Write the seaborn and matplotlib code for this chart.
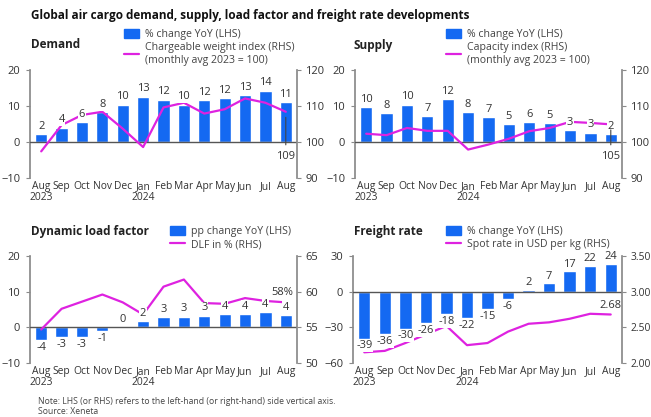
import numpy as np
import pandas as pd
import matplotlib
matplotlib.use("Agg")
import matplotlib.pyplot as plt
import seaborn as sns
from matplotlib.patches import Patch
from matplotlib.lines import Line2D

# ---------------- data ----------------
months = ["Aug\n2023", "Sep", "Oct", "Nov", "Dec", "Jan\n2024", "Feb", "Mar",
          "Apr", "May", "Jun", "Jul", "Aug"]

demand_yoy = [2.3, 4.0, 5.6, 8.2, 10.4, 12.6, 11.8, 10.4, 11.6, 12.3, 13.1, 14.3, 11.2]
demand_lbl = ["2", "4", "6", "8", "10", "13", "12", "10", "12", "12", "13", "14", "11"]
demand_idx = [97.4, 104.7, 107.5, 108.4, 103.7, 98.6, 109.6, 110.9, 107.9, 109.1, 112.1, 110.9, 108.4]

supply_yoy = [9.8, 8.0, 10.4, 7.3, 12.0, 8.4, 6.9, 5.0, 5.6, 5.2, 3.2, 2.6, 2.3]
supply_lbl = ["10", "8", "10", "7", "12", "8", "7", "5", "6", "5", "3", "3", "2"]
supply_idx = [102.3, 101.9, 103.9, 103.1, 103.1, 97.9, 99.3, 100.9, 103.0, 103.9, 105.6, 105.3, 104.9]

dlf_pp = [-3.6, -2.8, -2.8, -0.9, 0.0, 1.7, 2.8, 3.0, 3.3, 3.6, 3.8, 4.2, 3.5]
dlf_lbl = ["-4", "-3", "-3", "-1", "0", "2", "3", "3", "3", "4", "4", "4", "4"]
dlf_pct = [54.7, 57.6, 58.6, 59.6, 58.5, 56.8, 60.7, 61.7, 58.4, 58.3, 59.1, 58.7, 58.5]

rate_yoy = [-39.5, -36, -31, -26.5, -19, -22, -15, -6, 1.8, 7, 17, 22, 23.5]
rate_lbl = ["-39", "-36", "-30", "-26", "-18", "-22", "-15", "-6", "2", "7", "17", "22", "24"]
rate_spot = [2.15, 2.17, 2.28, 2.40, 2.52, 2.25, 2.28, 2.44, 2.55, 2.57, 2.62, 2.69, 2.68]

BLUE = "#1469f2"
MAGENTA = "#de22e0"
TXT = "#333333"
GREY = "#8a8a8a"

sns.set_theme(style="white")
plt.rcParams["font.family"] = ["Open Sans", "DejaVu Sans"]

W, H = 651, 417
fig = plt.figure(figsize=(W / 100, H / 100), dpi=100)


def px_axes(x0, x1, ytop, ybot):
    return fig.add_axes([x0 / W, 1 - ybot / H, (x1 - x0) / W, (ybot - ytop) / H])


def panel(ax, bars, labels, line, lylim, rylim, lticks, rticks, rfmt, lab_off,
          rsize=8):
    df = pd.DataFrame({"pos": range(len(bars)), "val": bars})
    sns.barplot(data=df, x="pos", y="val", color=BLUE, width=0.6, ax=ax,
                saturation=1, zorder=2)
    ax.set_xlim(-0.55, 12.55)
    ax.set_ylim(*lylim)
    ax.set_yticks(lticks)
    ax.set_xticks(range(len(months)))
    ax.set_xticklabels(months, fontsize=7.4, color=TXT, linespacing=1.05)
    ax.set_xlabel("")
    ax.set_ylabel("")
    ax.axhline(0, color="#555555", lw=1.0, zorder=3)
    ax.tick_params(axis="y", labelsize=8, colors=TXT, length=3, width=0.8,
                   color=GREY, direction="out", pad=4)
    ax.tick_params(axis="x", length=0, pad=2)
    for s in ["top", "right", "bottom"]:
        ax.spines[s].set_visible(False)
    ax.spines["left"].set_color(GREY)

    ax2 = ax.twinx()
    ldf = pd.DataFrame({"pos": range(len(line)), "val": line})
    sns.lineplot(data=ldf, x="pos", y="val", color=MAGENTA, lw=1.6, ax=ax2, zorder=4)
    ax2.set_ylim(*rylim)
    ax2.set_yticks(rticks)
    ax2.set_yticklabels([rfmt.format(t) for t in rticks])
    ax2.set_ylabel("")
    ax2.set_xlabel("")
    ax2.tick_params(axis="y", labelsize=rsize, colors=TXT, length=3, width=0.8,
                    color=GREY, direction="out", pad=3)
    for s in ["top", "left", "bottom"]:
        ax2.spines[s].set_visible(False)
    ax2.spines["right"].set_color(GREY)
    ax2.set_xlim(-0.55, 12.55)

    # bar value labels, drawn above the line with white boxes
    for i, (v, t) in enumerate(zip(bars, labels)):
        if v >= 0:
            y, va = v + lab_off, "bottom"
        else:
            y, va = v - lab_off, "top"
        ax2.text(i, y, t, transform=ax.transData, ha="center", va=va, fontsize=8,
                 color=TXT, zorder=6,
                 bbox=dict(boxstyle="square,pad=0.05", fc="white", ec="none"))
    return ax2


def legend(x, y, bar_lbl, line_lbl):
    h = [Patch(color=BLUE), Line2D([], [], color=MAGENTA, lw=1.6)]
    fig.legend(h, [bar_lbl, line_lbl], loc="upper left",
               bbox_to_anchor=(x / W, 1 - y / H), frameon=False, fontsize=7.6,
               labelcolor="#444444", handlelength=1.4, handleheight=0.9,
               handletextpad=0.6, labelspacing=0.2, borderaxespad=0,
               borderpad=0)


# ---------- Demand ----------
ax = px_axes(30, 297, 70, 178)
a2 = panel(ax, demand_yoy, demand_lbl, demand_idx, (-10, 20), (90, 120),
           [-10, 0, 10, 20], [90, 100, 110, 120], "{:d}", 0.6)
a2.annotate("109", xy=(12, demand_idx[-1]), xytext=(12, 96.0), ha="center",
            va="center", fontsize=8, color=TXT, zorder=6,
            arrowprops=dict(arrowstyle="-", color="#444444", lw=0.8, shrinkB=4))
fig.text(31 / W, 1 - 45 / H, "Demand", fontsize=8.5, fontweight="bold",
         color="#222222", va="center")
legend(124, 29, "% change YoY (LHS)",
       "Chargeable weight index (RHS)\n(monthly avg 2023 = 100)")

# ---------- Supply ----------
ax = px_axes(355, 622, 70, 178)
a2 = panel(ax, supply_yoy, supply_lbl, supply_idx, (-10, 20), (90, 120),
           [-10, 0, 10, 20], [90, 100, 110, 120], "{:d}", 0.6)
a2.annotate("105", xy=(12, supply_idx[-1]), xytext=(12, 96.0), ha="center",
            va="center", fontsize=8, color=TXT, zorder=6,
            arrowprops=dict(arrowstyle="-", color="#444444", lw=0.8, shrinkB=4))
fig.text(354 / W, 1 - 45 / H, "Supply", fontsize=8.5, fontweight="bold",
         color="#222222", va="center")
legend(446, 29, "% change YoY (LHS)",
       "Capacity index (RHS)\n(monthly avg 2023 = 100)")

# ---------- Dynamic load factor ----------
ax = px_axes(30, 297, 256, 363)
a2 = panel(ax, dlf_pp, dlf_lbl, dlf_pct, (-10, 20), (50, 65),
           [-10, 0, 10, 20], [50, 55, 60, 65], "{:d}", 0.6)
a2.text(11.85, dlf_pct[-1] + 0.6, "58%", ha="center", va="bottom", fontsize=8,
        color=TXT, zorder=6)
fig.text(31 / W, 1 - 231 / H, "Dynamic load factor", fontsize=8.5,
         fontweight="bold", color="#222222", va="center")
legend(170, 226, "pp change YoY (LHS)", "DLF in % (RHS)")

# ---------- Freight rate ----------
ax = px_axes(353, 622, 256, 363)
a2 = panel(ax, rate_yoy, rate_lbl, rate_spot, (-60, 30), (2.0, 3.5),
           [-60, -30, 0, 30], [2.0, 2.5, 3.0, 3.5], "{:.2f}", 1.5, rsize=7.4)
a2.text(12, rate_spot[-1] + 0.05, "2.68", ha="center", va="bottom", fontsize=8,
        color=TXT, zorder=6)
fig.text(354 / W, 1 - 231 / H, "Freight rate", fontsize=8.5, fontweight="bold",
         color="#222222", va="center")
legend(446, 226, "% change YoY (LHS)", "Spot rate in USD per kg (RHS)")

# ---------- titles / notes ----------
fig.text(31 / W, 1 - 15 / H,
         "Global air cargo demand, supply, load factor and freight rate developments",
         fontsize=8.5, fontweight="bold", color="#111111", va="center")
fig.text(38 / W, 1 - 402 / H,
         "Note: LHS (or RHS) refers to the left-hand (or right-hand) side vertical axis.",
         fontsize=6.2, color="#444444", va="center")
fig.text(38 / W, 1 - 411 / H, "Source: Xeneta", fontsize=6.2, color="#444444",
         va="center")

fig.savefig("out.png", dpi=100, facecolor="white")
